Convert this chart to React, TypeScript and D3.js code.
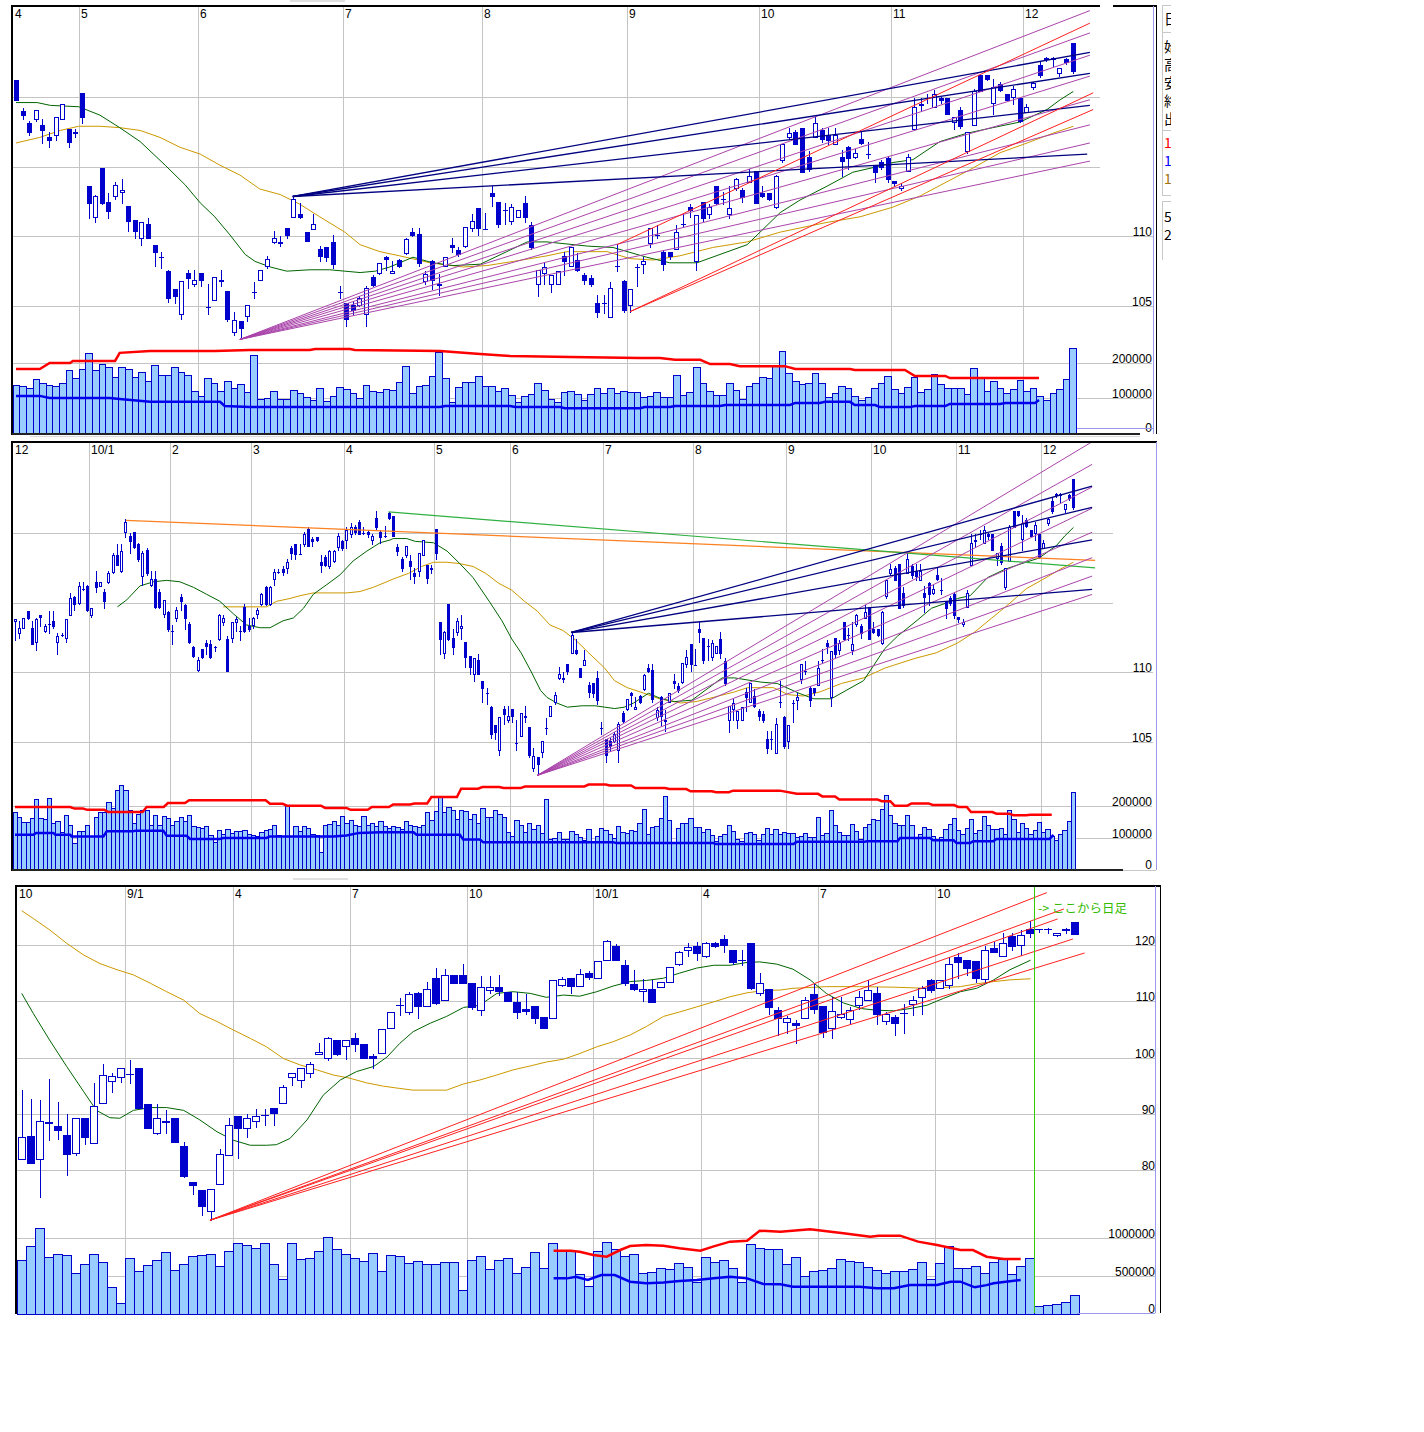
import React from 'react';
import * as d3 from 'd3';

type C = [number, number, number, number]; // open, high, low, close
type P = [number, number];

// ================= Panel 1 : daily, Apr - Dec =================
const p1Candles: C[] = [
  [121.2,121.2,119.8,119.8],[119.0,119.2,118.4,118.7],[118.1,118.3,117.3,117.5],[118.4,119.1,118.3,119.1],[118.0,118.4,116.7,117.6],
  [117.1,117.5,116.4,116.9],[117.3,118.6,116.9,118.6],[118.4,119.5,118.4,119.5],[117.7,117.7,116.4,116.8],[117.5,117.7,117.1,117.4],
  [120.3,120.3,118.1,118.6],[113.6,113.6,111.3,112.4],[111.4,113.0,111.0,112.9],[114.9,114.9,112.3,112.4],[112.5,113.1,111.3,111.8],
  [112.9,113.9,112.7,113.7],[113.2,114.1,112.4,113.3],[112.2,112.2,110.4,111.1],[111.2,111.2,109.9,110.4],[109.9,111.0,109.4,111.0],
  [110.9,111.3,109.9,109.9],[109.4,109.4,107.9,108.9],[108.5,108.9,107.7,108.5],[107.5,107.6,105.3,105.6],[106.2,106.2,105.2,105.7],
  [104.4,106.8,104.1,106.8],[107.4,107.6,106.3,107.0],[106.6,107.6,106.4,106.9],[107.4,107.4,106.4,106.9],[104.9,106.6,104.4,104.9],
  [105.4,107.1,105.4,107.1],[106.9,107.6,106.4,106.8],[106.1,106.1,103.9,104.1],[103.1,104.6,102.9,104.0],[103.9,103.9,102.6,103.4],
  [104.3,105.1,103.9,105.1],[106.0,106.7,105.6,106.0],[106.9,107.6,106.9,107.6],[107.9,108.6,107.7,108.4],[109.6,110.4,109.5,109.9],
  [109.6,110.0,109.3,109.5],[110.6,110.6,109.9,110.1],[111.4,112.9,111.4,112.7],[111.6,112.4,111.3,111.4],[110.3,110.3,109.7,109.7],
  [110.5,111.6,110.5,110.9],[109.1,109.3,108.2,108.6],[109.2,109.2,108.2,108.5],[109.6,110.1,107.7,108.0],[106.0,106.4,105.6,106.0],
  [105.2,105.2,103.6,104.1],[105.1,105.3,104.4,104.7],[105.1,105.7,105.0,105.6],[104.4,106.4,103.6,106.3],[107.1,107.2,106.4,106.5],
  [107.4,108.1,107.3,108.1],[108.5,108.6,107.6,108.4],[107.4,108.2,107.4,107.5],[108.3,108.4,107.8,107.9],[108.8,109.9,108.7,109.8],
  [110.3,110.6,110.0,110.1],[110.2,110.6,107.9,108.1],[106.8,107.5,106.6,107.3],[108.2,108.3,106.2,106.9],[106.6,107.3,105.8,106.5],
  [107.9,108.5,107.9,108.5],[109.4,109.9,108.9,109.2],[109.0,109.2,108.6,108.7],[109.3,110.7,109.2,110.7],[110.6,111.6,110.4,111.1],
  [112.0,112.0,110.1,110.6],[110.5,111.7,110.5,110.5],[113.1,113.6,112.2,112.9],[112.5,112.5,110.7,110.9],[111.9,112.4,110.9,111.9],
  [111.1,112.3,110.9,112.1],[111.4,111.9,111.4,111.9],[112.4,112.9,111.0,111.4],[110.8,111.0,109.1,109.2],[106.6,107.6,105.7,107.6],
  [107.4,108.1,106.6,107.8],[106.6,107.2,106.0,107.2],[106.6,107.5,106.6,107.5],[108.6,108.9,107.2,108.2],[107.9,109.2,107.9,109.2],
  [108.3,108.8,107.5,107.6],[107.2,107.4,106.6,106.9],[107.0,107.2,106.4,106.6],[105.2,105.8,104.2,104.6],[105.2,105.8,104.5,105.2],
  [104.2,106.7,104.2,106.3],[107.9,109.4,107.5,107.9],[106.8,106.9,104.6,104.7],[105.1,106.2,104.6,106.2],[107.8,108.0,106.4,107.8],
  [108.0,108.5,107.4,108.2],[109.5,110.6,109.2,110.6],[110.1,110.8,109.9,110.1],[108.9,109.0,107.6,108.0],[108.9,108.9,108.4,108.6],
  [109.1,110.8,109.1,110.3],[110.9,111.7,110.7,110.9],[112.1,112.3,111.4,111.9],[108.2,111.5,107.6,111.5],[112.5,112.5,111.1,111.3],
  [111.6,112.3,111.3,112.1],[113.6,113.6,112.3,112.4],[112.7,113.2,112.3,112.7],[111.6,113.6,111.3,112.0],[113.5,114.2,113.3,114.1],
  [113.3,113.5,112.5,112.8],[113.9,114.8,113.9,114.3],[114.7,114.7,112.4,112.4],[113.1,113.6,112.8,112.9],[113.1,113.1,112.6,112.7],
  [112.1,114.4,112.0,114.3],[115.5,116.6,115.3,116.6],[117.1,117.8,117.0,117.4],[117.5,117.6,116.6,116.6],[117.8,117.8,114.6,114.6],
  [115.7,116.1,114.7,114.8],[117.1,118.6,117.1,118.1],[117.6,117.8,116.8,117.0],[117.3,117.8,116.6,116.9],[116.6,117.8,116.6,117.3],
  [115.7,116.2,114.3,115.4],[116.4,116.5,114.8,115.6],[115.7,116.3,115.6,116.0],[117.0,117.5,116.6,116.7],[115.9,116.8,115.6,115.9],
  [115.1,115.1,113.9,114.6],[115.3,115.5,114.8,115.0],[115.6,115.8,113.9,114.1],[114.0,114.0,113.6,113.8],[113.5,113.8,113.3,113.6],
  [114.7,115.9,114.7,115.7],[117.7,119.9,117.7,119.3],[119.4,119.9,119.0,119.5],[119.9,120.2,119.6,119.9],[119.3,120.5,119.3,120.2],
  [119.9,120.0,119.6,119.8],[119.9,119.9,118.8,118.8],[118.2,118.6,117.7,118.6],[119.1,119.3,117.8,117.9],[116.1,117.5,116.0,117.5],
  [118.0,120.6,118.0,120.4],[121.6,121.6,120.4,120.4],[121.6,121.6,121.2,121.3],[119.6,121.3,118.8,120.7],[120.9,121.1,120.4,120.5],
  [120.2,120.2,119.8,119.8],[120.0,120.8,119.5,120.6],[119.9,119.9,118.2,118.3],[118.9,119.5,118.9,119.3],[120.7,121.1,120.6,121.0],
  [122.3,122.6,121.4,121.6],[122.8,122.9,122.6,122.7],[122.8,122.9,122.2,122.7],[121.7,122.1,121.5,122.1],[122.7,122.8,122.4,122.5],
  [123.9,123.9,121.7,121.9],
];
const p1Volume: number[] = [ // thousands
  137,134,128,154,142,137,134,142,180,157, 183,228,180,197,188,160,188,183,160,174,
  148,194,165,165,188,174,165,120,106,157, 142,120,148,129,140,117,222,97,100,120,
  97,97,123,114,103,94,128,91,106,131, 126,114,100,137,120,117,126,123,146,191,
  114,134,137,163,232,157,88,131,146,146, 163,134,134,120,128,109,90,106,111,142,
  123,97,90,117,120,111,94,111,130,114, 128,114,120,117,117,103,106,116,103,103,
  165,109,116,188,142,120,109,109,143,123, 97,134,143,160,157,191,234,171,148,140,
  142,171,142,103,114,134,129,106,94,103, 128,143,163,126,114,131,160,117,126,168,
  140,128,128,130,111,186,160,120,148,130, 114,126,151,120,129,106,94,114,126,154,
  243,
];
const p1Ma25: P[] = [[0,119.6],[3.2,119.6],[5.2,119.4],[9.5,119.3],[12.7,118.7],[15.7,117.8],[18.8,116.8],[22.6,115.1],[25.6,113.7],[27.9,112.4],[30.1,111.4],[32.4,110.1],[34.7,108.7],[36.2,108.2],[38.5,107.8],[41.0,107.5],[44.5,107.6],[47.5,107.6],[49.8,107.5],[52.1,107.4],[54.4,107.5],[56.6,107.8],[60.1,108.5],[63.1,108.1],[66.2,107.9],[70.3,108.0],[74.3,108.9],[77.4,109.6],[80.4,109.6],[86.5,109.3],[90.4,109.2],[95.5,108.5],[99.0,108.1],[103.1,108.1],[106.6,108.7],[110.7,109.4],[113.1,110.5],[115.7,111.7],[118.7,112.6],[122.8,113.6],[126.7,114.6],[130.4,115.0],[132.8,115.3],[135.8,115.5],[139.9,116.8],[144.0,117.4],[147.9,117.8],[152.0,118.2],[156.1,119.1],[158.1,119.8],[160.1,120.4]];
const p1Ma75: P[] = [[0,116.7],[3.6,117.1],[6.7,117.6],[9.5,117.9],[12.7,117.9],[15.7,117.8],[18.8,117.6],[21.8,117.1],[24.8,116.4],[27.9,115.9],[30.9,115.1],[33.9,114.4],[36.9,113.4],[40.0,113.0],[43.0,112.3],[46.0,111.4],[49.8,110.3],[52.1,109.4],[55.1,108.9],[58.1,108.6],[62.7,108.1],[67.7,107.8],[71.3,107.9],[75.3,108.2],[80.4,108.6],[83.4,108.9],[86.5,108.9],[89.5,108.9],[93.0,108.4],[96.5,108.3],[100.5,108.6],[105.5,109.2],[110.7,109.6],[115.7,110.3],[117.7,110.5],[122.8,111.0],[127.8,111.4],[132.8,112.1],[136.9,112.9],[140.9,113.9],[144.9,114.9],[149.0,116.0],[153.1,116.7],[157.0,117.4],[160.1,117.9]];
const p1VolMaLong: P[] = [[0,183],[3.6,183],[5.1,200],[8.2,200],[8.6,206],[15,206],[15.7,229],[20.3,234],[30.1,234],[35.4,237],[44.5,237],[45.3,240],[50.6,240],[51.3,237],[64.2,234],[70.3,226],[74.8,220],[83.9,217],[94.5,214],[97.5,214],[99.8,209],[103.6,209],[105.1,197],[108.1,197],[109.6,191],[116.4,191],[118,183],[126.3,183],[127,180],[134.6,180],[136.1,163],[140.7,163],[141.4,157],[154.9,157]];
const p1VolMaShort: P[] = [[0,106],[3.6,106],[5.1,100],[14.2,100],[15.7,97],[20.3,89],[30.9,89],[31.6,77],[35.4,74],[64.2,74],[65,77],[74.8,77],[75.6,74],[82.4,74],[83.1,71],[94.5,71],[95.2,74],[99,74],[99.8,77],[106.6,77],[107.4,80],[117.2,80],[118,86],[121.7,86],[122.5,89],[126.3,89],[127,80],[130.1,80],[130.8,74],[135.4,74],[136.1,77],[140.7,77],[141.4,83],[149,83],[149.8,86],[154.3,86],[154.9,94]];
const p1MonthStarts = [0, 10, 28, 50, 71, 93, 113, 133, 153];
const p1MonthLabels = ['4', '5', '6', '7', '8', '9', '10', '11', '12'];
const navyPivot: P = [41.9, 112.86];
const navyEnds: P[] = [[162.6, 123.2], [162.6, 121.7], [162.6, 119.4], [162.2, 115.9]];
const purplePivot: P = [33.9, 102.6];
const purpleEnds: P[] = [[162.6, 126.2], [162.6, 124.6], [162.6, 123.0], [162.6, 121.5], [162.6, 119.8], [162.6, 118.0], [162.6, 116.7], [162.6, 115.4]];
const redSegs: number[][] = [[93, 104.6, 163.1, 120.3], [93, 104.6, 163.1, 119.1], [91, 109.4, 162.6, 125.3]];

// ================= Panel 2 : daily, Dec - Dec =================
const p2EarlyCandles: C[] = [
  [113.7,113.8,112.3,113.8],[112.8,113.7,112.5,113.2],[113.2,113.9,113.2,113.9],[114.4,114.4,113.8,113.9],[113.2,113.7,112.0,112.0],
  [112.2,113.9,111.6,113.8],[114.1,114.1,113.3,113.95],[113.0,113.5,112.9,113.3],[113.5,114.4,112.8,113.5],[113.7,114.4,113.2,113.3],
  [112.2,112.8,111.3,112.6],[112.7,112.8,112.6,112.7],[112.5,113.8,112.2,113.8],[114.1,115.7,114.1,115.3],[115.4,115.5,114.5,114.9],
  [115.0,116.5,114.9,116.2],[116.0,116.5,115.9,116.0],[116.2,116.3,114.4,114.5],[114.1,114.6,114.0,114.6],[116.5,117.3,115.8,116.1],
  [116.2,116.5,116.2,116.5],[115.8,116.0,114.6,115.1],[116.5,117.3,116.4,117.1],[117.2,118.6,117.1,118.4],[118.4,119.2,117.7,117.7],
  [117.3,119.2,117.2,118.7],[120.1,121.0,119.7,120.8],[119.8,120.0,118.6,119.4],[120.1,120.1,118.9,119.0],[119.2,119.3,118.0,118.1],
  [116.9,118.7,116.3,118.6],[118.8,118.9,117.0,117.1],[116.3,117.3,116.2,116.7],[116.7,117.3,114.6,114.7],[115.8,116.0,114.6,114.7],
  [114.2,115.2,114.0,115.2],[114.3,114.4,113.0,113.1],[113.0,113.4,112.0,113.0],[113.9,114.7,113.7,114.5],[115.4,115.6,114.5,115.1],
  [114.8,114.9,113.1,113.9],[113.5,113.6,112.1,112.2],[111.8,111.9,111.1,111.2],[110.2,111.1,110.1,110.9],[111.7,111.7,111.0,111.1],
  [112.1,112.3,111.3,111.9],[112.0,112.3,111.0,111.1],[111.8,111.9,111.5,111.8],[112.4,114.2,112.3,114.1],[113.6,114.1,113.4,113.9],
  [112.4,112.6,110.1,110.1],[112.5,113.6,112.2,113.6],[113.6,114.0,113.0,113.8],[113.0,113.3,112.3,113.0],[114.7,114.9,112.9,113.0],
  [113.3,113.9,113.0,113.1],[113.4,114.0,113.2,113.9],[114.2,114.6,113.9,114.5],[114.9,115.7,114.8,115.6],[116.1,116.2,114.8,114.9],
  [114.9,116.2,114.8,116.1],[116.7,117.4,116.3,117.2],[117.2,117.4,117.1,117.2],[117.4,117.6,117.0,117.2],[117.5,118.1,117.1,117.9],
  [118.9,119.1,118.1,118.6],[119.2,119.2,118.1,118.5],[118.5,119.2,118.5,118.5],[119.2,120.1,119.1,119.9],[120.3,120.4,119.1,119.1],
  [119.6,119.7,119.1,119.4],[119.7,119.7,119.4,119.5],[117.9,118.4,117.2,117.7],[118.3,118.4,117.6,117.7],[117.6,118.8,117.5,118.7],
  [118.0,118.8,117.9,118.7],[119.0,120.0,118.8,119.8],[119.4,119.5,118.8,118.9],[119.5,120.4,118.9,120.2],[119.9,120.7,119.7,120.4],
  [120.4,120.6,119.9,120.1],[120.8,120.9,119.9,119.9],[120.0,120.4,119.9,120.0],[120.1,120.2,119.7,119.9],[119.5,119.9,119.2,119.8],
  [121.1,121.6,120.3,120.4],[120.1,120.2,119.3,119.7],[119.8,120.5,119.7,119.8],[121.4,121.5,121.0,121.1],
];
const p2EarlyVolume: number[] = [
  181,166,150,150,163,222,163,159,225,147, 152,119,171,142,84,121,121,142,105,166,
  181,181,211,194,251,267,251,186,147,176, 186,186,142,173,142,168,163,140,154,166,
  154,171,136,134,131,136,110,88,126,112, 129,116,121,121,126,112,108,105,119,126,
  129,140,108,105,204,105,136,123,136,131, 112,110,55,142,144,152,140,168,147,157,
  140,136,168,140,147,139,154,136,131,
];
const p2Offset = 89; // panel 1 series starts at this panel 2 index
const p2EarlyMa25: P[] = [[24.1,114.7],[26.3,115.2],[29.4,116.2],[32.6,116.5],[35.7,116.6],[38.8,116.5],[42.0,116.1],[45.1,115.6],[48.2,115.1],[51.4,114.2],[54.5,113.4],[57.7,113.2],[60.0,113.2],[63.1,113.7],[65.5,113.9],[67.9,114.6],[70.2,115.6],[73.4,116.3],[76.5,117.0],[79.6,118.0],[82.8,118.7],[85.9,119.3],[88.3,119.5]];
const p2EarlyMa75: P[] = [[49.0,114.7],[59.2,114.7],[61.6,115.1],[64.7,115.3],[67.1,115.5],[70.2,115.7],[74.9,115.7],[78.1,115.7],[81.2,115.8],[84.3,116.1],[87.5,116.5]];
const p2VolMaLong: P[] = [[0,197],[13,197],[14,192],[16,192],[17,188],[21,188],[22,181],[30,181],[31,197],[35,197],[36,209],[40,209],[41,218],[59,218],[60,207],[63,207],[64,201],[72,201],[73,194],[78,194],[79,188],[83,188],[84,197],[88,197],[89,205],[93,205],[94,208],[97,208],[98,228],[104,228],[105,254],[109,254],[110,259],[114,259],[115,256],[119,256],[120,261],[134,261],[135,267],[139,267],[140,264],[145,264],[146,256],[153,256],[154,253],[158,253],[159,246],[164,246],[165,243],[168,243],[169,248],[180,248],[184,238],[189,238],[190,230],[193,230],[194,220],[203,220],[204,215],[206,215],[207,201],[210,201],[211,208],[215,208],[216,203],[221,203],[222,197],[224,197],[225,181],[230,181],[231,176],[234,176],[235,171],[238,171],[239,173],[244,173]];
const p2VolMaShort: P[] = [[0,110],[4.3,110],[5,116],[9,116],[9.5,110],[13,110],[13.3,105],[20.8,105],[21.6,121],[27.8,121],[28.5,123],[34.9,123],[35.7,107],[40.4,107],[41.2,97],[48.2,97],[49,100],[59.2,100],[60,105],[74.9,105],[78,108],[81,116],[86,118],[93.8,118],[94.5,110],[104.7,110],[105.5,95],[109.4,95],[110.2,87],[140.8,87],[141.5,84],[164.4,84],[165,81],[183.2,81],[184,88],[199.9,88],[200.5,90],[207.7,90],[208.3,100],[215.3,100],[216.1,93],[220.9,93],[221.6,84],[224.8,84],[225.5,90],[230.2,90],[231,97],[243.5,97],[244.4,110]];
const p2MonthStarts = [0, 18, 37, 56, 78, 99, 117, 139, 160, 182, 202, 222, 242];
const p2MonthLabels = ['12', '10/1', '2', '3', '4', '5', '6', '7', '8', '9', '10', '11', '12'];
const p2OrangeSeg = [26.1, 120.91, 254.2, 118.04];
const p2GreenSeg = [87.9, 121.51, 254.2, 117.49];
const p2LineEnd = 253.5;

// ================= Panel 3 : weekly (then daily) =================
const p3Candles: C[] = [
  [82.0,94.2,82.0,85.8],[86.0,92.7,81.3,81.3],[81.9,92.5,75.2,88.7],[88.3,96.2,85.4,88.6],[87.8,92.1,85.6,87.2],
  [86.2,89.9,79.1,82.9],[83.0,89.3,82.6,89.3],[89.3,89.3,84.7,85.9],[84.8,95.5,84.8,91.4],[92.0,98.8,92.0,96.9],
  [95.9,97.3,93.9,96.7],[96.5,98.2,95.7,98.2],[97.0,99.5,95.4,97.0],[98.2,98.2,91.0,91.0],[91.8,91.8,87.4,87.5],
  [86.5,91.7,86.4,89.3],[88.7,90.7,86.5,88.5],[89.3,89.3,85.0,85.0],[84.2,84.9,78.8,78.9],[77.9,77.9,75.8,77.4],
  [76.4,76.4,72.0,73.6],[72.8,76.7,71.1,76.7],[77.6,83.8,77.6,82.9],[82.6,89.3,82.6,88.0],[89.6,89.6,82.2,87.4],
  [87.4,90.0,85.9,89.2],[88.7,90.8,87.7,89.6],[89.8,90.9,88.0,89.8],[91.1,91.1,88.0,90.2],[92.0,95.1,92.0,94.8],
  [96.6,97.3,95.1,97.3],[96.0,98.2,94.7,98.2],[97.3,99.2,96.5,98.8],[100.7,102.5,100.7,101.0],[100.0,103.7,99.6,103.4],
  [103.1,103.1,100.4,100.7],[102.0,103.1,99.8,103.1],[103.4,104.3,101.2,102.4],[102.4,102.4,100.0,100.0],[100.2,100.7,98.1,100.0],
  [100.8,105.0,100.8,105.0],[105.3,108.1,105.3,108.1],[109.3,110.5,107.5,109.3],[108.1,111.7,107.8,111.3],[111.4,111.7,107.0,109.1],
  [109.2,113.5,109.2,112.1],[114.2,116.0,109.6,109.7],[110.3,115.7,110.2,114.7],[114.7,114.7,113.3,113.3],[114.7,116.6,113.3,113.3],
  [113.2,113.2,108.7,108.9],[108.4,114.5,107.5,112.5],[112.0,114.5,111.4,112.6],[112.5,114.7,111.2,111.9],[111.7,111.7,110.1,110.1],
  [109.9,111.7,107.1,108.1],[108.7,111.3,107.8,108.3],[109.1,109.1,106.1,107.0],[107.2,107.2,105.2,105.2],[107.0,113.8,107.0,113.8],
  [112.9,114.4,112.7,113.9],[114.2,114.2,111.4,112.7],[112.7,115.7,112.7,114.8],[115.0,115.3,113.9,114.4],[114.1,117.2,114.1,117.2],
  [117.3,120.9,117.3,120.8],[119.8,120.2,117.3,117.3],[116.4,117.4,112.9,113.2],[113.1,115.6,112.0,112.1],[111.8,114.0,110.1,112.2],
  [112.1,113.8,109.9,109.9],[112.5,113.5,112.5,113.5],[113.5,116.1,113.5,116.1],[116.7,119.0,116.4,118.8],[119.2,120.4,118.0,119.6],
  [119.8,120.6,117.4,118.6],[118.0,120.6,117.9,120.4],[120.4,120.6,119.7,119.8],[121.0,121.8,118.8,120.0],[119.1,119.1,116.7,116.9],
  [117.4,119.1,116.4,117.4],[120.4,120.4,112.1,112.3],[111.4,115.1,111.1,113.2],[112.1,112.1,107.8,108.9],[108.4,109.0,104.0,107.0],
  [106.4,107.4,104.3,107.0],[106.2,106.7,102.6,105.8],[107.0,110.7,107.0,110.3],[111.3,113.1,108.0,108.6],[109.1,109.1,103.6,104.6],
  [105.2,110.8,103.4,108.3],[107.2,110.8,107.1,107.7],[106.8,109.0,106.0,108.4],[109.3,111.9,108.6,110.7],[110.3,113.8,110.2,112.0],
  [111.4,112.6,106.0,107.8],[106.5,108.1,106.0,107.7],[107.2,107.5,104.0,106.2],[107.9,109.5,104.4,107.9],[109.5,110.9,107.5,110.2],
  [110.8,112.8,107.8,112.3],[113.7,113.9,111.7,112.0],[112.3,113.8,112.3,113.8],[112.9,117.8,112.3,116.6],[117.9,118.5,114.2,117.0],
  [117.3,117.3,114.6,116.0],[117.2,117.2,113.5,114.1],[113.9,119.8,113.5,119.2],[119.4,120.6,118.8,118.8],[118.0,122.1,118.0,120.4],
  [121.6,122.1,119.2,119.8],[120.0,122.7,118.2,121.8],[122.8,124.2,121.5,122.1],
  [122.8,122.8,122.4,122.8],[122.8,123.0,122.2,122.8],[121.7,122.1,121.6,122.1],[122.8,123.0,122.1,122.6],[124.0,124.0,121.9,122.0],
];
const p3Volume: number[] = [
  710,895,1127,746,789,772,535,654,789,680, 351,140,732,566,645,711,811,579,654,763,
  776,789,632,829,930,908,864,930,658,461, 930,724,737,829,1009,855,785,732,697,798,
  566,776,763,667,697,654,654,680,680,316, 711,768,592,711,741,535,614,811,601,930,
  833,833,522,368,833,952,855,768,785,535, 548,601,588,675,614,425,754,689,711,610,
  417,917,864,851,851,658,754,504,566,579, 601,724,697,680,623,579,535,570,570,592,
  680,461,667,899,601,601,636,535,680,719, 522,636,732, 105,114,127,154,250,
];
const p3DailyStart = 113;
const p3Ma13: P[] = [[0,111.4],[1.3,107.8],[3.1,103.1],[5.0,98.4],[6.9,93.9],[8.3,90.6],[9.8,89.3],[10.9,89.2],[12.4,90.6],[14.3,91.1],[16.1,91.1],[18.0,90.6],[19.8,88.9],[21.7,86.8],[23.5,85.3],[25.4,84.4],[27.2,84.4],[28.3,84.5],[29.8,85.6],[31.7,88.9],[33.5,93.3],[35.4,96.0],[37.2,97.5],[39.1,98.4],[40.6,100.1],[42.0,102.5],[43.5,104.6],[45.4,106.1],[47.2,107.3],[49.1,108.9],[50.9,109.3],[52.8,111.4],[54.6,111.7],[56.5,111.4],[58.3,110.7],[60.2,111.1],[62.0,110.9],[63.9,111.7],[65.7,112.7],[67.6,113.5],[69.4,113.7],[71.3,114.1],[73.1,115.0],[75.0,115.9],[76.9,116.4],[78.7,116.4],[80.6,116.9],[82.0,117.0],[83.9,116.6],[85.7,115.7],[87.6,113.8],[89.4,111.4],[91.3,109.7],[93.3,108.7],[95.0,108.4],[96.9,108.3],[98.7,108.7],[100.6,109.3],[102.4,110.5],[104.3,111.7],[106.1,112.3],[108.0,113.8],[109.8,115.6],[112.1,117.3]];
const p3Ma26: P[] = [[0,126.1],[1.3,124.7],[3.1,122.7],[5.0,120.3],[6.9,118.2],[8.7,116.7],[10.6,115.6],[12.4,114.7],[14.3,113.2],[16.1,111.7],[18.0,110.2],[19.8,107.8],[21.7,106.4],[23.5,104.9],[25.4,103.4],[27.2,101.9],[29.1,99.8],[30.9,98.7],[32.8,97.8],[34.6,96.9],[36.5,96.3],[38.3,95.5],[40.2,94.9],[42.0,94.5],[43.5,94.2],[47.2,94.2],[49.1,95.3],[50.9,96.0],[52.8,96.9],[54.6,97.8],[56.5,98.5],[58.3,99.2],[60.2,99.7],[62.0,100.7],[63.9,101.9],[65.7,102.8],[67.6,104.0],[69.4,105.5],[71.3,107.3],[73.1,108.1],[75.0,109.0],[76.9,109.9],[78.7,110.8],[80.6,111.5],[82.4,111.9],[84.3,112.0],[85.7,112.3],[89.4,112.6],[93.1,112.6],[96.9,112.5],[100.6,112.3],[104.3,112.6],[106.1,113.1],[108.0,113.5],[109.8,113.8],[112.1,114.0]];
const p3VolMaLong: P[] = [[59.1,833],[61,833],[62,820],[63.5,776],[65,754],[66.5,842],[67.6,895],[69.4,908],[71.3,899],[73.1,864],[75.4,833],[76.8,886],[78.7,952],[80.6,965],[82,1096],[84.3,1083],[87.6,1114],[91.3,1061],[94.3,1018],[95.2,1031],[97.6,1031],[99.6,952],[101.7,908],[104.3,842],[105.7,842],[107.2,754],[109.1,724],[111,724]];
const p3VolMaShort: P[] = [[59.1,469],[60.6,469],[61.6,491],[62.9,447],[64.4,513],[65.9,513],[67.6,425],[69.4,404],[71.3,413],[73.1,434],[75,447],[76.9,469],[78.7,491],[80.6,469],[82.4,395],[84.3,390],[85.7,360],[93.1,360],[95,338],[96.9,338],[98.7,382],[101.7,382],[103.2,425],[104.3,425],[105.9,351],[107.2,380],[108,404],[111,447]];
const p3QuarterStarts = [0, 12, 24, 37, 50, 64, 76, 89, 102];
const p3QuarterLabels = ['10', '9/1', '4', '7', '10', '10/1', '4', '7', '10'];
const p3RedPivot: P = [20.92, 71.07];
const p3RedEnds: P[] = [[113.9, 129.31], [115.8, 126.41], [115.1, 124.63], [116.8, 121.07], [118.1, 118.58]];
const p3Note = '-> ここから日足';

// ================= rendering =================
const BLUE = '#0000cc';
const GRID = '#c4c4c4';
const FONT = "'Liberation Sans Narrow','Liberation Sans',Arial,sans-serif";

interface Seg { seg: number[]; color: string; w: number }
interface Ln { pts: P[]; color: string; w: number }
interface Cfg {
  id: string; left: number; top: number; bottom: number; clipRight: number;
  candles: C[]; volumes: number[];
  xRange: [number, number];
  priceDomain: [number, number]; priceRange: [number, number];
  volDomain: [number, number]; volRange: [number, number];
  bodyW: number;
  priceTicks: { v: number; label: string | null; x2: number }[];
  volTicks: { v: number; label: string }[];
  labelX: number;
  periodStarts: number[]; periodLabels: string[];
  ma: Ln[]; volMa: Ln[]; trend: Seg[];
}

function extend(a: P, b: P, xEnd: number): number[] {
  const v = a[1] + (b[1] - a[1]) * (xEnd - a[0]) / (b[0] - a[0]);
  return [a[0], a[1], xEnd, v];
}

function Panel({ c }: { c: Cfg }) {
  const n = c.candles.length;
  const x = d3.scaleLinear().domain([0, n - 1]).range(c.xRange);
  const step = x(1) - x(0);
  const yP = d3.scaleLinear().domain(c.priceDomain).range(c.priceRange);
  const yV = d3.scaleLinear().domain(c.volDomain).range(c.volRange);
  const v0 = Math.round(yV(0));
  const line = d3.line<P>().x(d => x(d[0])).y(d => yP(d[1]));
  const vline = d3.line<P>().x(d => x(d[0])).y(d => yV(d[1] * 1000));
  const clipId = 'clip-' + c.id;
  const half = Math.floor(c.bodyW / 2);
  return (
    <g>
      <defs>
        <clipPath id={clipId}>
          <rect x={c.left} y={c.top} width={c.clipRight - c.left} height={c.bottom - c.top} />
        </clipPath>
      </defs>
      {/* grid */}
      {c.priceTicks.map((t, i) => {
        const y = Math.round(yP(t.v)) + 0.5;
        return <line key={'pg' + i} x1={c.left} x2={t.x2} y1={y} y2={y} stroke={GRID} />;
      })}
      {c.volTicks.map((t, i) => {
        if (t.v === 0) return null;
        const y = Math.round(yV(t.v)) + 0.5;
        return <line key={'vg' + i} x1={c.left} x2={c.labelX} y1={y} y2={y} stroke={GRID} />;
      })}
      {c.periodStarts.map((s, i) => {
        if (s === 0) return null;
        const xl = Math.round(x(s - 0.5)) + 0.5;
        return <line key={'mg' + i} x1={xl} x2={xl} y1={c.top} y2={c.bottom} stroke={GRID} />;
      })}
      {c.periodStarts.map((s, i) => {
        const xl = s === 0 ? c.left + 3 : Math.round(x(s - 0.5)) + 2;
        return <text key={'ml' + i} x={xl} y={c.top + 12} fontSize={12} fontFamily={FONT} fill="#000">{c.periodLabels[i]}</text>;
      })}
      {c.priceTicks.map((t, i) => t.label ? (
        <text key={'pl' + i} x={c.labelX} y={Math.round(yP(t.v))} textAnchor="end" fontSize={12} fontFamily={FONT} fill="#000">{t.label}</text>
      ) : null)}
      {c.volTicks.map((t, i) => (
        <text key={'vl' + i} x={c.labelX} y={Math.round(yV(t.v)) - (t.v === 0 ? 1 : 0)} textAnchor="end" fontSize={12} fontFamily={FONT} fill="#000">{t.label}</text>
      ))}
      {/* volume */}
      <g shapeRendering="crispEdges">
        {c.volumes.map((v, i) => {
          const x0 = Math.round(x(i) - step / 2);
          const x1 = Math.round(x(i) + step / 2);
          const yt = Math.round(yV(v * 1000));
          return <rect key={'v' + i} x={x0 + 0.5} y={yt + 0.5} width={x1 - x0} height={v0 - yt} fill="#99ccff" stroke={BLUE} strokeWidth={1} />;
        })}
      </g>
      {c.volMa.map((l, i) => (
        <path key={'vm' + i} d={vline(l.pts) || ''} fill="none" stroke={l.color} strokeWidth={l.w} />
      ))}
      <g clipPath={`url(#${clipId})`}>
        {c.ma.map((l, i) => (
          <path key={'ma' + i} d={line(l.pts) || ''} fill="none" stroke={l.color} strokeWidth={l.w} />
        ))}
        <g shapeRendering="crispEdges">
          {c.candles.map((d, i) => {
            const [o, h, l, cl] = d;
            const cx = Math.round(x(i));
            const left = cx - half;
            const yT = Math.round(yP(Math.max(o, cl)));
            const yB = Math.round(yP(Math.min(o, cl)));
            const yH = Math.round(yP(h));
            const yL = Math.round(yP(l));
            const up = cl > o;
            let body;
            if (yB - yT < 1) {
              body = <rect x={left} y={yT} width={c.bodyW} height={1} fill={BLUE} />;
            } else if (up) {
              body = <rect x={left + 0.5} y={yT + 0.5} width={c.bodyW - 1} height={yB - yT} fill="#fff" stroke={BLUE} strokeWidth={1} />;
            } else {
              body = <rect x={left} y={yT} width={c.bodyW} height={yB - yT + 1} fill={BLUE} />;
            }
            return (
              <g key={'c' + i}>
                <rect x={cx} y={yH} width={1} height={Math.max(yL - yH + 1, 1)} fill={BLUE} />
                {body}
              </g>
            );
          })}
        </g>
        {c.trend.map((t, i) => (
          <line key={'t' + i} x1={x(t.seg[0])} y1={yP(t.seg[1])} x2={x(t.seg[2])} y2={yP(t.seg[3])} stroke={t.color} strokeWidth={t.w} />
        ))}
      </g>
    </g>
  );
}

const NAVY = '#000080';
const PURPLE = '#aa44aa';
const RED = '#ff2020';

const p1Trend: Seg[] = [
  ...purpleEnds.map(e => ({ seg: [purplePivot[0], purplePivot[1], e[0], e[1]], color: PURPLE, w: 1 })),
  ...navyEnds.map(e => ({ seg: [navyPivot[0], navyPivot[1], e[0], e[1]], color: NAVY, w: 1.3 })),
  ...redSegs.map(s => ({ seg: s, color: RED, w: 1 })),
];

const sh = (p: P): P => [p[0] + p2Offset, p[1]];
const p2Trend: Seg[] = [
  { seg: p2OrangeSeg, color: '#ff8020', w: 1.2 },
  { seg: p2GreenSeg, color: '#30b040', w: 1.2 },
  ...purpleEnds.map(e => ({ seg: extend(sh(purplePivot), sh(e), p2LineEnd), color: PURPLE, w: 1 })),
  ...navyEnds.map(e => ({ seg: extend(sh(navyPivot), sh(e), p2LineEnd), color: NAVY, w: 1.3 })),
];

const p3Trend: Seg[] = p3RedEnds.map(e => ({ seg: [p3RedPivot[0], p3RedPivot[1], e[0], e[1]], color: RED, w: 1 }));

const cfg1: Cfg = {
  id: 'p1', left: 12, top: 6, bottom: 434, clipRight: 1100,
  candles: p1Candles, volumes: p1Volume,
  xRange: [16, 1072.7],
  priceDomain: [105, 120], priceRange: [306, 97],
  volDomain: [0, 200000], volRange: [433, 363],
  bodyW: 5,
  priceTicks: [{ v: 120, label: null, x2: 1100 }, { v: 115, label: null, x2: 1100 }, { v: 110, label: '110', x2: 1153 }, { v: 105, label: '105', x2: 1153 }],
  volTicks: [{ v: 200000, label: '200000' }, { v: 100000, label: '100000' }, { v: 0, label: '0' }],
  labelX: 1152,
  periodStarts: p1MonthStarts, periodLabels: p1MonthLabels,
  ma: [{ pts: p1Ma75, color: '#cc9900', w: 1 }, { pts: p1Ma25, color: '#006400', w: 1 }],
  volMa: [{ pts: p1VolMaLong, color: '#ff0000', w: 2.5 }, { pts: p1VolMaShort, color: '#0000ee', w: 2.5 }],
  trend: p1Trend,
};

const cfg2: Cfg = {
  id: 'p2', left: 12, top: 442, bottom: 870, clipRight: 1112,
  candles: [...p2EarlyCandles, ...p1Candles], volumes: [...p2EarlyVolume, ...p1Volume],
  xRange: [15, 1073],
  priceDomain: [105, 120], priceRange: [742, 533],
  volDomain: [0, 200000], volRange: [870, 806],
  bodyW: 3,
  priceTicks: [{ v: 120, label: null, x2: 1113 }, { v: 115, label: null, x2: 1113 }, { v: 110, label: '110', x2: 1153 }, { v: 105, label: '105', x2: 1153 }],
  volTicks: [{ v: 200000, label: '200000' }, { v: 100000, label: '100000' }, { v: 0, label: '0' }],
  labelX: 1152,
  periodStarts: p2MonthStarts, periodLabels: p2MonthLabels,
  ma: [
    { pts: [...p2EarlyMa75, ...p1Ma75.map(sh)], color: '#cc9900', w: 1 },
    { pts: [...p2EarlyMa25, ...p1Ma25.map(sh)], color: '#006400', w: 1 },
  ],
  volMa: [{ pts: p2VolMaLong, color: '#ff0000', w: 2.5 }, { pts: p2VolMaShort, color: '#0000ee', w: 2.5 }],
  trend: p2Trend,
};

const cfg3: Cfg = {
  id: 'p3', left: 16, top: 886, bottom: 1313, clipRight: 1150,
  candles: p3Candles, volumes: p3Volume,
  xRange: [21.7, 1074.7],
  priceDomain: [80, 120], priceRange: [1170, 945],
  volDomain: [0, 1000000], volRange: [1314, 1238],
  bodyW: 8,
  priceTicks: [120, 110, 100, 90, 80].map(v => ({ v, label: String(v), x2: 1155 })),
  volTicks: [{ v: 1000000, label: '1000000' }, { v: 500000, label: '500000' }, { v: 0, label: '0' }],
  labelX: 1155,
  periodStarts: p3QuarterStarts, periodLabels: p3QuarterLabels,
  ma: [{ pts: p3Ma26, color: '#cc9900', w: 1 }, { pts: p3Ma13, color: '#006400', w: 1 }],
  volMa: [{ pts: p3VolMaLong, color: '#ff0000', w: 2.5 }, { pts: p3VolMaShort, color: '#0000ee', w: 2.5 }],
  trend: p3Trend,
};

function Legend() {
  const items: { y: number; t: string; c: string }[] = [
    { y: 24, t: '日', c: '#000' }, { y: 52, t: '始', c: '#000' }, { y: 70, t: '高', c: '#000' },
    { y: 88, t: '安', c: '#000' }, { y: 106, t: '終', c: '#000' }, { y: 124, t: '出', c: '#000' },
    { y: 148, t: '1', c: '#ff0000' }, { y: 166, t: '1', c: '#0000ff' }, { y: 184, t: '1', c: '#a07010' },
    { y: 222, t: '5', c: '#000' }, { y: 240, t: '2', c: '#000' },
  ];
  return (
    <g>
      <defs>
        <clipPath id="legclip"><rect x={1158} y={0} width={13} height={260} /></clipPath>
      </defs>
      <g clipPath="url(#legclip)">
        <rect x={1162.5} y={5.5} width={30} height={27} fill="none" stroke="#c8c8c8" />
        <rect x={1162.5} y={32.5} width={30} height={98} fill="none" stroke="#c8c8c8" />
        <rect x={1162.5} y={130.5} width={30} height={65} fill="none" stroke="#c8c8c8" />
        <rect x={1162.5} y={201.5} width={30} height={60} fill="none" stroke="#c8c8c8" />
        {items.map((it, i) => (
          <text key={i} x={1164} y={it.y} fontSize={14} fontFamily="'Noto Sans CJK JP',sans-serif" fill={it.c}>{it.t}</text>
        ))}
      </g>
    </g>
  );
}

export default function App() {
  const p3x = d3.scaleLinear().domain([0, p3Candles.length - 1]).range(cfg3.xRange);
  const gx = Math.round(p3x(p3DailyStart - 0.5)) + 0.5;
  return (
    <div style={{ position: 'absolute', left: 0, top: 0 }}>
      <svg width={1424} height={1432} viewBox="0 0 1424 1432" style={{ display: 'block', background: '#fff' }}>
        <rect x={0} y={0} width={1424} height={1432} fill="#fff" />
        <Panel c={cfg1} />
        <Panel c={cfg2} />
        <Panel c={cfg3} />

        {/* panel 3 daily marker */}
        <line x1={gx} x2={gx} y1={886} y2={1313} stroke="#33cc00" strokeWidth={1} />
        <text x={1038} y={913} fontSize={12.5} fontFamily="'Noto Sans CJK JP',sans-serif" fill="#33bb00">{p3Note}</text>

        {/* frames */}
        <g shapeRendering="crispEdges">
          {/* panel 1 */}
          <line x1={12} x2={1100} y1={6} y2={6} stroke="#000" strokeWidth={2} />
          <line x1={1113} x2={1157} y1={6} y2={6} stroke="#000" strokeWidth={2} />
          <line x1={12} x2={12} y1={5} y2={435} stroke="#000" strokeWidth={2} />
          <line x1={12} x2={1140} y1={434} y2={434} stroke="#222" strokeWidth={2} />
          <line x1={30} x2={1140} y1={436.5} y2={436.5} stroke="#d8d8d8" strokeWidth={1} />
          <line x1={1153.5} x2={1153.5} y1={6} y2={434} stroke="#9999ee" />
          <line x1={1156.5} x2={1156.5} y1={6} y2={434} stroke="#000" />
          <line x1={1077} x2={1153} y1={428.5} y2={428.5} stroke="#9999ee" />
          {/* panel 2 */}
          <line x1={12} x2={1157} y1={442} y2={442} stroke="#000" strokeWidth={2} />
          <line x1={12} x2={12} y1={441} y2={871} stroke="#000" strokeWidth={2} />
          <line x1={12} x2={1123} y1={870} y2={870} stroke="#222" strokeWidth={2} />
          <line x1={1123} x2={1156} y1={870.5} y2={870.5} stroke="#c8c8c8" />
          <line x1={1156.5} x2={1156.5} y1={442} y2={870} stroke="#9999ee" />
          {/* panel 3 */}
          <line x1={16} x2={1161} y1={886} y2={886} stroke="#000" strokeWidth={2} />
          <line x1={16} x2={16} y1={885} y2={1314} stroke="#000" strokeWidth={2} />
          <line x1={1155.5} x2={1155.5} y1={886} y2={1313} stroke="#9999ee" />
          <line x1={1160.5} x2={1160.5} y1={886} y2={1313} stroke="#000" />
          <line x1={1077} x2={1155} y1={1313.5} y2={1313.5} stroke="#9999ee" />
          <rect x={290} y={0} width={55} height={2} fill="#e0e0e0" />
          <rect x={293} y={878} width={55} height={2} fill="#e0e0e0" />
        </g>
        <Legend />
      </svg>
    </div>
  );
}
